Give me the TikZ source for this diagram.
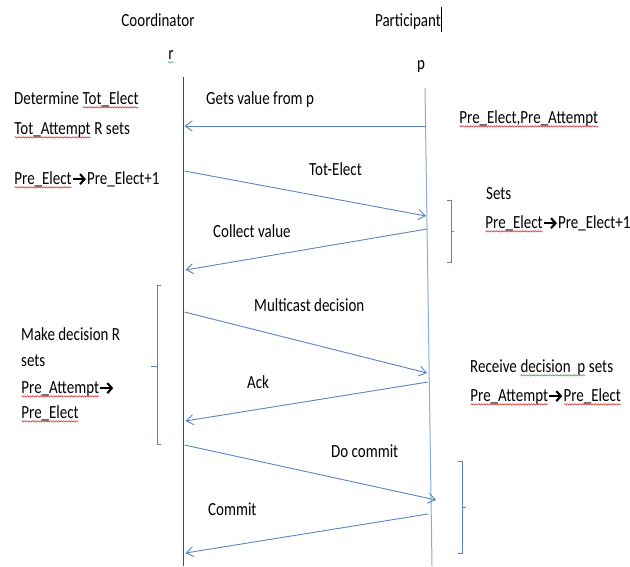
\documentclass[tikz,border=0pt]{standalone}
\usepackage{fontspec}
\setmainfont{Carlito}[FakeStretch=0.81]
\usetikzlibrary{arrows.meta,decorations.pathmorphing}

\definecolor{msgblue}{RGB}{88,132,192}
\definecolor{lifeblue}{RGB}{140,172,215}
\definecolor{spellred}{RGB}{225,40,40}
\definecolor{spellgreen}{RGB}{60,160,60}

% spell-check style wavy underline under a word
\newcommand\wavy[2]{\tikz[baseline=(w.base)]{%
  \node[inner sep=0pt, outer sep=0pt, anchor=base, text height=, text depth=] (w) {#2};
  \draw[#1, line width=0.55pt, decorate,
        decoration={snake, segment length=2.6pt, amplitude=0.7pt}]
    ([yshift=-3pt]w.base west) -- ([yshift=-3pt]w.base east);}}
\newcommand\redwave[1]{\wavy{spellred}{#1}}
\newcommand\greenwave[1]{\wavy{spellgreen}{#1}}
% heavy inline arrow between words
\newcommand\thickarrow{\tikz[baseline=0pt,x=1pt,y=1pt]{%
  \path (0,0) -- (14,0);
  \draw[black, line width=2.3pt, -{Straight Barb[length=4.5pt,width=10pt,line width=2.1pt]}]
    (0.5,5.2) -- (13.3,5.2);}}

\tikzset{
  lbl/.style={anchor=west, inner sep=0pt, text height=12.7pt, text depth=0pt,
              font=\fontsize{18.5}{21}\selectfont},
  ctr/.style={lbl, anchor=center},
  msg/.style={draw=msgblue, line width=0.9pt,
              -{Straight Barb[length=7pt,width=10pt,line width=0.9pt]}},
  brace/.style={draw=msgblue, line width=0.8pt},
}

\begin{document}
\begin{tikzpicture}[x=1pt,y=-1pt]
\useasboundingbox (0,0) rectangle (630,566);

% headings
\node[ctr] (coord) at (158,20) {Coordinator};
\node[ctr] (part) at (408,20) {Participant};
\draw[black, line width=1pt] (441,7) -- (441,32);
\node[ctr] (rname) at (171,53) {\greenwave{r}};
\node[ctr] (pname) at (421,63) {p};

% lifelines
\coordinate (rtop) at (183.5,77);
\coordinate (rbot) at (183.5,566);
\coordinate (ptop) at (425,88);
\coordinate (pbot) at (432,566);
\draw[gray!60!black, line width=1.2pt] (rtop) -- (rbot);
\draw[lifeblue, line width=1pt] (ptop) -- (pbot);

% message end points
\coordinate (p1) at (425.5,126);  \coordinate (r1) at (184.5,126);
\coordinate (r2) at (184.5,171);  \coordinate (p2) at (426,216);
\coordinate (p3) at (427,229);    \coordinate (r3) at (185.5,270);
\coordinate (r4) at (184.5,312);  \coordinate (p4) at (427,373);
\coordinate (p5) at (428,382);    \coordinate (r5) at (185.5,421);
\coordinate (r6) at (184.5,445);  \coordinate (p6) at (436,500);
\coordinate (p7) at (428,514);    \coordinate (r7) at (185.5,553);

\draw[msg] (p1) -- (r1);
\draw[msg] (r2) -- (p2);
\draw[msg] (p3) -- (r3);
\draw[msg] (r4) -- (p4);
\draw[msg] (p5) -- (r5);
\draw[msg] (r6) -- (p6);
\draw[msg] (p7) -- (r7);

% message labels
\node[lbl] (l1) at (206,98) {Gets value from p};
\node[lbl] (l2) at (309,169) {Tot-Elect};
\node[lbl] (l3) at (213,231) {Collect value};
\node[lbl] (l4) at (254,305) {Multicast decision};
\node[lbl] (l5) at (247,382) {Ack};
\node[lbl] (l6) at (331,451) {Do commit};
\node[lbl] (l7) at (208,509) {Commit};

% coordinator side notes
\node[lbl] (c1) at (14,98) {Determine \redwave{Tot\_Elect}};
\node[lbl] (c2) at (14,128) {\redwave{Tot\_Attempt} R sets};
\node[lbl] (c3) at (14,178) {\redwave{Pre\_Elect}\thickarrow Pre\_Elect+1};
\node[lbl] (c4) at (21,334) {Make decision R};
\node[lbl] (c5) at (21,360) {sets};
\node[lbl] (c6) at (21,387) {\redwave{Pre\_Attempt}\thickarrow};
\node[lbl] (c7) at (21,412) {\redwave{Pre\_Elect}};

% participant side notes
\node[lbl] (q1) at (459,117) {\redwave{Pre\_Elect,Pre\_Attempt}};
\node[lbl] (q2) at (486,193) {Sets};
\node[lbl] (q3) at (485,222) {\redwave{Pre\_Elect}\thickarrow Pre\_Elect+1};
\node[lbl] (q4) at (470,366) {Receive \greenwave{decision\ \ p} sets};
\node[lbl] (q5) at (470,395) {\redwave{Pre\_Attempt}\thickarrow\redwave{Pre\_Elect}};

% brackets
\draw[brace] (447,200) -- (451,200) -- (451,262) -- (447,262);
\draw[brace] (451,231) -- (454,231);
\draw[brace] (161,285) -- (157,285) -- (157,444) -- (161,444);
\draw[brace] (157,366) -- (151,366);
\draw[brace] (458,461) -- (462,461) -- (462,553) -- (458,553);
\draw[brace] (462,507) -- (466,507);
\end{tikzpicture}
\end{document}
